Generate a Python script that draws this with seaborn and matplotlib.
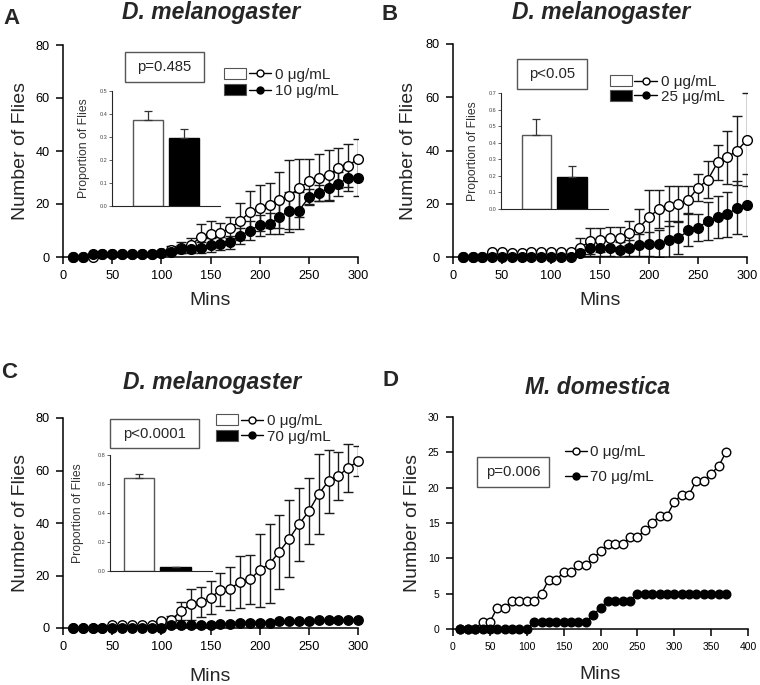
import numpy as np
import matplotlib
matplotlib.use('Agg')
import matplotlib.pyplot as plt
import seaborn as sns
from matplotlib.patches import Rectangle, Patch
from matplotlib.lines import Line2D
from matplotlib.legend_handler import HandlerTuple

sns.set_style('ticks')
plt.rcParams['font.family'] = ['Liberation Sans', 'DejaVu Sans']

# time points (min)
mins = np.arange(10, 310, 10)
mins_d = np.arange(10, 380, 10)

# Panel A: 0 vs 10 ug/mL
a_ctrl = [0, 0, 0, 1, 1, 1, 1, 1, 1, 1.5, 2.5, 3.5, 4.5, 7.5, 8.5, 9, 11, 13.5, 17, 18.5,
          19.5, 21.5, 23, 26, 28.5, 30, 31, 33.5, 34.5, 37]
a_ctrl_err = [0, 0, 0, 0, 0, 0, 0, 0, 0, 0.8, 1.5, 2, 2.5, 5, 5, 4, 4, 7, 8, 8.5,
              8.5, 10.5, 13.5, 11, 8.5, 9, 9.5, 7.5, 8, 7.5]
a_trt = [0, 0, 1, 1, 1, 1, 1, 1, 1, 1.5, 2, 3, 3, 3.5, 4.5, 5, 5.5, 8, 10, 12,
         12.5, 15, 17.5, 17.5, 22.5, 24, 26, 27.5, 30, 30]
a_trt_err = [0, 0, 0, 0, 0, 0, 0, 0, 0, 0.5, 1, 1.5, 1.5, 2, 2.5, 2.5, 2.5, 3, 3.7, 4,
             4, 6.5, 7, 7, 3, 3, 5, 4.5, 5, 7]

# Panel B: 0 vs 25 ug/mL
b_ctrl = [0, 0, 0, 2, 2, 1.5, 1.5, 2, 2, 2, 2, 2, 3.5, 6, 6.5, 7, 7, 9, 11, 15,
          18, 19, 20, 21.5, 26, 29, 35.5, 37.5, 40, 44]
b_ctrl_err = [0, 0, 0, 0, 0, 0, 0, 0, 0, 0, 0, 0, 3.8, 5, 4.5, 4.2, 4.2, 4.4, 7, 10,
              7, 7.5, 6.5, 5, 5, 7, 6.5, 10, 13, 17.5]
b_trt = [0, 0, 0, 0, 0, 0, 0, 0, 0, 0, 0, 0, 1.5, 3.5, 3.5, 3.5, 2.5, 3.5, 4.5, 5,
         5, 6.5, 7, 10, 11, 13.5, 15, 16, 18.5, 19.5]
b_trt_err = [0, 0, 0, 0, 0, 0, 0, 0, 0, 0, 0, 0, 1, 3, 3, 3, 3, 3, 4, 4.5,
             5, 7, 6, 6, 5, 7, 8, 8.5, 10, 11.5]

# Panel C: 0 vs 70 ug/mL
c_ctrl = [0, 0, 0, 0, 1, 1, 1, 1, 1, 2.5, 3, 6.5, 9, 10, 11.5, 14.5, 15, 17.5, 18.5, 22,
          24.5, 29, 34, 39.5, 44.5, 51, 56, 58, 61, 63.5]
c_ctrl_err = [0, 0, 0, 0, 0, 0, 0, 0, 0, 0.5, 1.5, 3.4, 6, 5.7, 6.3, 6.3, 8.3, 9.8, 9.5, 14,
              15, 14, 14.6, 14, 12.5, 15.3, 12, 9.1, 9, 5.7]
c_trt = [0, 0, 0, 0, 0, 0, 0, 0, 0, 0, 1, 1, 1, 1, 1, 1.5, 1.5, 2, 2, 2,
         2, 2.5, 2.5, 2.5, 2.5, 3, 3, 3, 3, 3]
c_trt_err = [0, 0, 0, 0, 0, 0, 0, 0, 0, 0, 0.5, 0.5, 0.5, 0.5, 0.5, 0.5, 0.5, 0.5, 0.5, 0.5,
             0.5, 0.5, 0.5, 0.5, 0.5, 0.5, 0.5, 0.5, 0.5, 0.5]

# Panel D: M. domestica, 0 vs 70 ug/mL
d_ctrl = [0, 0, 0, 1, 1, 3, 3, 4, 4, 4, 4, 5, 7, 7, 8, 8, 9, 9, 10, 11,
          12, 12, 12, 13, 13, 14, 15, 16, 16, 18, 19, 19, 21, 21, 22, 23, 25]
d_trt = [0, 0, 0, 0, 0, 0, 0, 0, 0, 0, 1, 1, 1, 1, 1, 1, 1, 1, 2, 3,
         4, 4, 4, 4, 5, 5, 5, 5, 5, 5, 5, 5, 5, 5, 5, 5, 5]

# insets: proportion of flies
a_prop = [0.375, 0.295]
a_prop_err = [0.04, 0.04]
b_prop = [0.445, 0.195]
b_prop_err = [0.10, 0.065]
c_prop = [0.64, 0.025]
c_prop_err = [0.03, 0.006]

W, H = 760, 685
fig = plt.figure(figsize=(7.6, 6.85), dpi=100)


def rect(x0, ytop, x1, ybot):
    return [x0 / W, 1 - ybot / H, (x1 - x0) / W, (ybot - ytop) / H]


def timecourse(ax, x, y0, e0, y1, e1, ms):
    x = np.asarray(x)
    for y, e in ((y0, e0), (y1, e1)):
        if e is None:
            continue
        y = np.asarray(y, float)
        e = np.asarray(e, float)
        m = e > 0
        ax.errorbar(x[m], y[m], yerr=e[m], fmt='none', ecolor='#1a1a1a',
                    elinewidth=1, capsize=3.6, capthick=1, zorder=2)
    sns.lineplot(x=x, y=y0, ax=ax, color='black', lw=1, marker='o', markersize=ms,
                 markerfacecolor='white', markeredgecolor='black', markeredgewidth=1,
                 errorbar=None, clip_on=False, zorder=3)
    sns.lineplot(x=x, y=y1, ax=ax, color='black', lw=1, marker='o', markersize=ms,
                 markerfacecolor='black', markeredgecolor='black', markeredgewidth=1,
                 errorbar=None, clip_on=False, zorder=4)


def style_main(ax, xmax, xstep, ymax, ystep, fs, ylab_x, xlab_y):
    ax.set_xlim(0, xmax)
    ax.set_ylim(0, ymax)
    ax.set_xticks(np.arange(0, xmax + 1, xstep))
    ax.set_yticks(np.arange(0, ymax + 1, ystep))
    sns.despine(ax=ax)
    for s in ('left', 'bottom'):
        ax.spines[s].set_linewidth(1.1)
        ax.spines[s].set_color('black')
    ax.tick_params(direction='out', length=4.7, width=1.1, labelsize=fs, pad=5,
                   colors='black')
    ax.set_xlabel('Mins', fontsize=14)
    ax.set_ylabel('Number of Flies', fontsize=14)
    ax.yaxis.set_label_coords(ylab_x, 0.5)
    ax.xaxis.set_label_coords(0.5, xlab_y)


def pbox(ax, x0, y0, w, h, txt):
    ax.add_patch(Rectangle((x0, y0), w, h, transform=ax.transAxes, facecolor='white',
                           edgecolor='#555555', lw=1, clip_on=False, zorder=5))
    ax.text(x0 + w / 2, y0 + h / 2, txt, transform=ax.transAxes, ha='center',
            va='center', fontsize=10.7, zorder=6)


def inset(r, vals, errs, ymax, step, xmin, lab_x):
    axi = fig.add_axes(r)
    axi.patch.set_alpha(0)
    sns.barplot(x=['ctrl', 'trt'], y=vals, hue=['ctrl', 'trt'],
                palette=['white', 'black'], legend=False, width=0.83,
                errorbar=None, linewidth=1, ax=axi)
    for p, ec in zip(axi.patches, ['#555555', 'black']):
        p.set_edgecolor(ec)
    axi.errorbar([0, 1], vals, yerr=[[0, 0], errs], fmt='none', ecolor='#333333',
                 elinewidth=0.9, capsize=2.9, capthick=0.9)
    axi.set_xlim(xmin, 2)
    axi.set_ylim(0, ymax)
    axi.set_yticks(np.round(np.arange(0, ymax + 1e-9, step), 1))
    axi.set_xticks([])
    axi.set_xlabel('')
    sns.despine(ax=axi)
    for s in ('left', 'bottom'):
        axi.spines[s].set_linewidth(0.8)
    axi.tick_params(axis='y', length=2, width=0.6, labelsize=4, pad=1.5,
                    colors='#444444')
    axi.set_ylabel('Proportion of Flies', fontsize=8.8, color='#333333')
    axi.yaxis.set_label_coords(lab_x, 0.5)
    return axi


def legend(ax, labels, anchor, squares=True, spacing=0.15):
    handles = []
    for fc in ('white', 'black'):
        ln = Line2D([], [], color='black', lw=1, marker='o', markersize=5,
                    markerfacecolor=fc, markeredgecolor='black')
        if squares:
            handles.append((Patch(facecolor=fc, edgecolor='#555555', lw=0.8), ln))
        else:
            handles.append(ln)
    kw = dict(handler_map={tuple: HandlerTuple(ndivide=None, pad=0.15)},
              handlelength=3.05, handletextpad=0.3) if squares else \
        dict(handlelength=1.45, handletextpad=0.15)
    ax.legend(handles, labels, loc='upper left', bbox_to_anchor=anchor,
              frameon=False, fontsize=11, borderpad=0, borderaxespad=0,
              labelspacing=spacing, handleheight=0.75, **kw)


# ---- Panel A
axA = fig.add_axes(rect(63, 45, 358, 257))
timecourse(axA, mins, a_ctrl, a_ctrl_err, a_trt, a_trt_err, 7)
style_main(axA, 300, 50, 80, 20, 9.2, -0.115, -0.165)
pbox(axA, 0.210, 0.825, 0.268, 0.1415, 'p=0.485')
legend(axA, ['0 μg/mL', '10 μg/mL'], (0.546, 0.892))
inset(rect(112, 91, 220, 206), a_prop, a_prop_err, 0.5, 0.1, -1.0, -0.204)

# ---- Panel B
axB = fig.add_axes(rect(453, 44, 747, 257))
timecourse(axB, mins, b_ctrl, b_ctrl_err, b_trt, b_trt_err, 7)
style_main(axB, 300, 50, 80, 20, 9.2, -0.122, -0.165)
pbox(axB, 0.218, 0.789, 0.238, 0.141, 'p<0.05')
legend(axB, ['0 μg/mL', '25 μg/mL'], (0.534, 0.854), spacing=0.05)
inset(rect(501, 93, 608, 209), b_prop, b_prop_err, 0.7, 0.1, -0.99, -0.206)

# ---- Panel C
axC = fig.add_axes(rect(63, 418, 358, 628))
timecourse(axC, mins, c_ctrl, c_ctrl_err, c_trt, c_trt_err, 6.8)
style_main(axC, 300, 50, 80, 20, 9.2, -0.115, -0.19)
pbox(axC, 0.159, 0.857, 0.302, 0.138, 'p<0.0001')
legend(axC, ['0 μg/mL', '70 μg/mL'], (0.519, 1.019), spacing=0.1)
inset(rect(110, 455, 212, 571), c_prop, c_prop_err, 0.8, 0.2, -0.8, -0.255)

# ---- Panel D
axD = fig.add_axes(rect(453, 417, 748, 629))
timecourse(axD, mins_d, d_ctrl, None, d_trt, None, 6.2)
style_main(axD, 400, 50, 30, 5, 7.5, -0.108, -0.175)
pbox(axD, 0.081, 0.670, 0.244, 0.1415, 'p=0.006')
legend(axD, ['0 μg/mL', '70 μg/mL'], (0.380, 0.868), squares=False, spacing=0.75)

# titles and panel letters
for x, y, t in ((211, 12, 'D. melanogaster'), (601, 13, 'D. melanogaster'),
                (212, 382, 'D. melanogaster'), (598, 388, 'M. domestica')):
    fig.text(x / W, 1 - y / H, t, ha='center', va='center', fontsize=16.5,
             fontweight='bold', fontstyle='italic')
for x, y, t in ((11, 18, 'A'), (390, 15, 'B'), (9, 372, 'C'), (390, 380, 'D')):
    fig.text(x / W, 1 - y / H, t, ha='center', va='center', fontsize=16,
             fontweight='bold')

fig.savefig('out.png', dpi=100)
